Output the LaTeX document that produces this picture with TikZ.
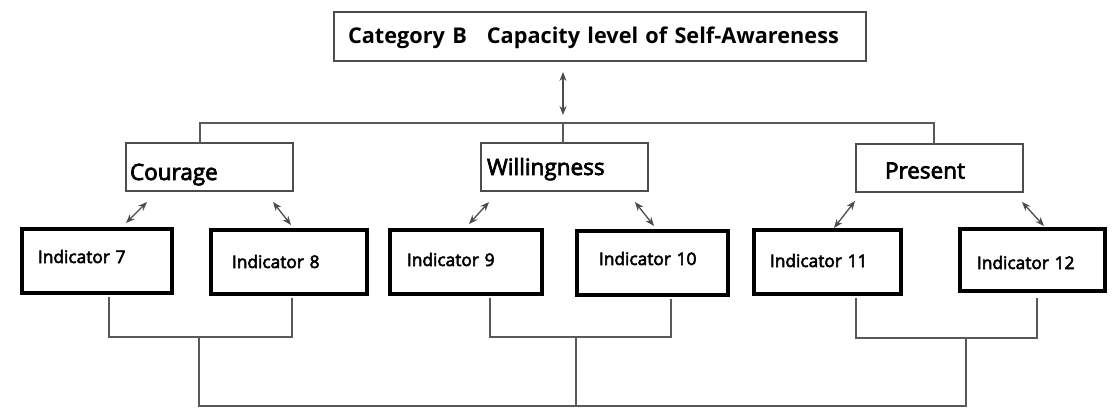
\documentclass[tikz,border=0pt]{standalone}
\usepackage{fontspec}
\setmainfont{Open Sans}
\newfontfamily\labelfont[FakeBold=3.2]{Open Sans}
\usetikzlibrary{calc}
\usetikzlibrary{arrows.meta}

\tikzset{
  catbox/.style={draw=black!70, line width=1.2pt, inner ysep=0pt, outer sep=0pt,
    align=left, anchor=north west, font=\labelfont\fontsize{22.5}{24}\selectfont},
  indbox/.style={draw=black, line width=3.8pt, inner ysep=0pt, outer sep=0pt,
    align=left, anchor=north west, font=\labelfont\fontsize{17.3}{20}\selectfont},
  link/.style={draw=black!65, line width=1.2pt},
  dbl/.style={draw=black!70, line width=1.3pt,
    {Stealth[length=9pt,width=7pt,fill=black!40]}-{Stealth[length=9pt,width=7pt,fill=black!40]}}
}

\begin{document}
\begin{tikzpicture}[x=1pt,y=-1pt]
\useasboundingbox (0,0) rectangle (1116,420);

\node[catbox, font=\fontsize{21.7}{24}\selectfont\bfseries, inner xsep=14pt, text width=504pt,
  text height=32pt, text depth=17pt] (title) at (334,12)
  {Category B\hspace{20pt}Capacity level of Self-Awareness};

\node[catbox, inner xsep=4pt, text width=159pt, text height=37pt, text depth=11pt]
  (courage) at (126,143) {Courage};
\node[catbox, inner xsep=6pt, text width=155pt, text height=32pt, text depth=16pt]
  (will) at (481,143) {Willingness};
\node[catbox, inner xsep=29pt, text width=109pt, text height=34.5pt, text depth=13.5pt]
  (present) at (856,144) {Present};

\node[indbox, inner xsep=16pt, text width=118pt, text height=34pt, text depth=30pt]
  (ind7) at (22,229) {Indicator 7};
\node[indbox, inner xsep=21pt, text width=114pt, text height=38pt, text depth=26pt]
  (ind8) at (211,230) {Indicator 8};
\node[indbox, inner xsep=17pt, text width=118pt, text height=36pt, text depth=28pt]
  (ind9) at (390,230) {Indicator 9};
\node[indbox, inner xsep=22pt, text width=107pt, text height=34pt, text depth=30pt]
  (ind10) at (577,231) {Indicator 10};
\node[indbox, inner xsep=16pt, text width=115pt, text height=37pt, text depth=27pt]
  (ind11) at (754,230) {Indicator 11};
\node[indbox, inner xsep=17pt, text width=111pt, text height=40pt, text depth=22pt]
  (ind12) at (960,229) {Indicator 12};

% top level
\coordinate (hub) at (563,123);
\draw[link] ([xshift=-9.5pt]courage.north) |- (hub) -| ([xshift=-5.5pt]present.north);
\draw[link] (hub) -- ([xshift=-1.5pt]will.north);
\draw[dbl] ($(title.south -| hub)+(0,11)$) -- ($(hub)+(0,-8)$);

\draw[dbl] ([shift={(21,11)}]courage.south west) -- ([shift={(29,-6)}]ind7.north);
\draw[dbl] ([shift={(-20,11)}]courage.south east) -- ([shift={(2,-5)}]ind8.north);
\draw[dbl] ([shift={(8,11)}]will.south west) -- ([shift={(3,-6)}]ind9.north);
\draw[dbl] ([shift={(-13,11)}]will.south east) -- ([shift={(1.5,-5)}]ind10.north);
\draw[dbl] ([shift={(-1,9)}]present.south west) -- ([shift={(6.5,-2)}]ind11.north);
\draw[dbl] ([shift={(-1,10)}]present.south east) -- ([shift={(11.5,-3)}]ind12.north);

% bottom level
\coordinate (j78) at (199,337);
\coordinate (j910) at (576,337);
\coordinate (j1112) at (966,338);
\coordinate (bot) at (576,406);
\draw[link] ([shift={(12,4)}]ind7.south) |- (j78) -| ([shift={(3,4)}]ind8.south);
\draw[link] ([shift={(24,4)}]ind9.south) |- (j910) -| ([shift={(18.5,4)}]ind10.south);
\draw[link] ([shift={(28.5,4)}]ind11.south) |- (j1112) -| ([shift={(4.5,7)}]ind12.south);
\draw[link] (j78) |- (bot) -| (j1112);
\draw[link] (j910) -- (bot);

\end{tikzpicture}
\end{document}
